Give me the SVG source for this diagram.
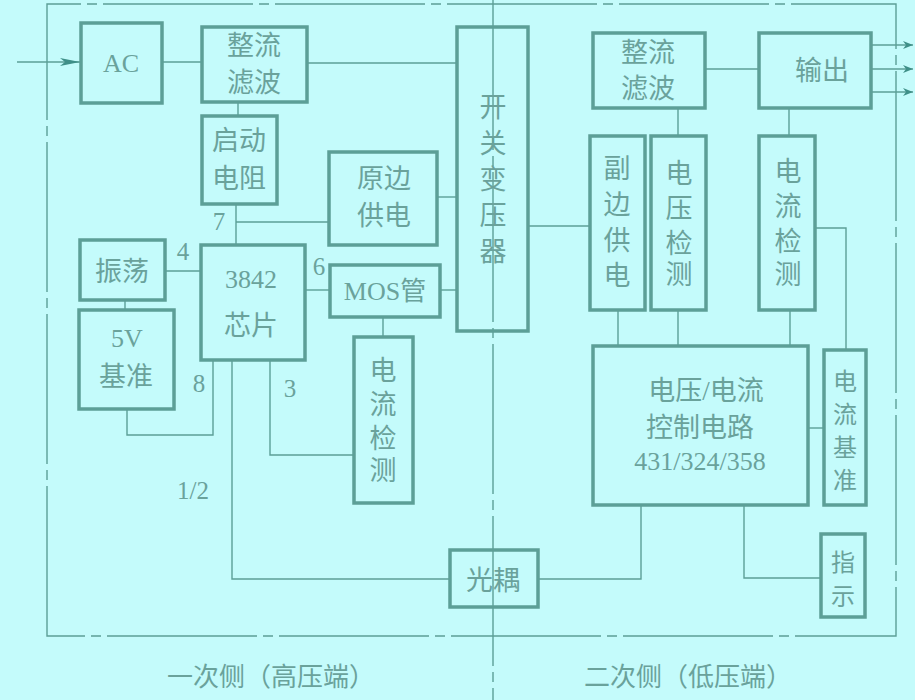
<svg xmlns="http://www.w3.org/2000/svg" width="915" height="700" viewBox="0 0 915 700">
<defs>
<style>
.box{fill:none;stroke:#5c9f97;stroke-width:3.5}
.ln{fill:none;stroke:#5c9f97;stroke-width:1.4}
.frame{fill:none;stroke:#5c9f97;stroke-width:1.4;stroke-dasharray:150 6 10 6}
.t{font-family:"Liberation Serif","Noto Sans CJK SC",serif;font-size:27px;fill:#6aa29b;text-anchor:middle}
.s{font-family:"Liberation Serif","Noto Sans CJK SC",serif;font-size:24px;fill:#6aa29b;text-anchor:middle}
.n{font-family:"Liberation Serif","Noto Sans CJK SC",serif;font-size:25px;fill:#6aa29b;text-anchor:middle}
.lb{font-family:"Liberation Serif","Noto Sans CJK SC",serif;font-size:26px;fill:#6aa29b;text-anchor:middle}
</style>
<marker id="arr" viewBox="0 0 20 10" refX="20" refY="5" markerWidth="20" markerHeight="10" markerUnits="userSpaceOnUse" orient="auto">
<path d="M0,1 L20,5 L0,9 L5,5 Z" fill="#3f8f88"/>
</marker>
<marker id="arr2" viewBox="0 0 10 8" refX="10" refY="4" markerWidth="10" markerHeight="8" markerUnits="userSpaceOnUse" orient="auto">
<path d="M0,0 L10,4 L0,8 L3,4 Z" fill="#3f8f88"/>
</marker>
</defs>
<rect x="0" y="0" width="915" height="700" fill="#c4fbfb"/>

<g id="frame">
<path class="frame" d="M47,636 L47,4 L896,4 L896,636 Z"/>
<line class="frame" x1="493" y1="0" x2="493" y2="700"/>
</g>

<g id="connectors">
<line class="ln" x1="17" y1="62" x2="80" y2="62" marker-end="url(#arr)"/>
<line class="ln" x1="162" y1="62" x2="202" y2="62"/>
<line class="ln" x1="307" y1="63" x2="457" y2="63"/>
<line class="ln" x1="238" y1="102" x2="238" y2="116"/>
<line class="ln" x1="236" y1="204" x2="236" y2="245"/>
<line class="ln" x1="236" y1="222" x2="329" y2="222"/>
<line class="ln" x1="437" y1="197" x2="457" y2="197"/>
<line class="ln" x1="125" y1="300" x2="125" y2="310"/>
<line class="ln" x1="165" y1="271" x2="201" y2="271"/>
<line class="ln" x1="305" y1="290" x2="330" y2="290"/>
<line class="ln" x1="440" y1="290" x2="457" y2="290"/>
<line class="ln" x1="383" y1="317" x2="383" y2="337"/>
<polyline class="ln" points="213,360 213,435 127,435 127,409"/>
<polyline class="ln" points="270,360 270,455 354,455"/>
<polyline class="ln" points="232,360 232,579 450,579"/>
<polyline class="ln" points="538,579 641,579 641,505"/>
<polyline class="ln" points="744,505 744,578 821,578"/>
<line class="ln" x1="528" y1="226" x2="590" y2="226"/>
<line class="ln" x1="705" y1="69" x2="759" y2="69"/>
<line class="ln" x1="678" y1="108" x2="678" y2="136"/>
<line class="ln" x1="789" y1="108" x2="789" y2="136"/>
<line class="ln" x1="871" y1="45" x2="913" y2="45" marker-end="url(#arr2)"/>
<line class="ln" x1="871" y1="69" x2="913" y2="69" marker-end="url(#arr2)"/>
<line class="ln" x1="871" y1="92" x2="913" y2="92" marker-end="url(#arr2)"/>
<line class="ln" x1="618" y1="310" x2="618" y2="346"/>
<line class="ln" x1="678" y1="310" x2="678" y2="346"/>
<line class="ln" x1="790" y1="310" x2="790" y2="346"/>
<polyline class="ln" points="815,228 846,228 846,350"/>
<line class="ln" x1="808" y1="428" x2="824" y2="428"/>
</g>

<g id="ac"><rect class="box" x="81" y="23" width="81" height="80"/><text class="lb" x="121" y="72">AC</text></g>
<g id="rect1"><rect class="box" x="202" y="27" width="105" height="75"/><text class="t" x="254" y="55">整流</text><text class="t" x="254" y="92">滤波</text></g>
<g id="startres"><rect class="box" x="202" y="116" width="75" height="88"/><text class="t" x="239" y="150">启动</text><text class="t" x="239" y="188">电阻</text></g>
<g id="primsup"><rect class="box" x="329" y="152" width="108" height="93"/><text class="t" x="384" y="188">原边</text><text class="t" x="384" y="225">供电</text></g>
<g id="xfmr"><rect class="box" x="457" y="27" width="71" height="304"/>
<text class="t" x="493" y="117">开</text><text class="t" x="493" y="153">关</text><text class="t" x="493" y="189">变</text><text class="t" x="493" y="225">压</text><text class="t" x="493" y="261">器</text></g>
<g id="rect2"><rect class="box" x="593" y="33" width="112" height="75"/><text class="t" x="648" y="62">整流</text><text class="t" x="648" y="98">滤波</text></g>
<g id="output"><rect class="box" x="759" y="33" width="112" height="75"/><text class="t" x="822" y="80">输出</text></g>
<g id="secsup"><rect class="box" x="590" y="136" width="55" height="174"/>
<text class="t" x="617" y="178">副</text><text class="t" x="617" y="214">边</text><text class="t" x="617" y="250">供</text><text class="t" x="617" y="285">电</text></g>
<g id="vdet"><rect class="box" x="651" y="136" width="55" height="174"/>
<text class="t" x="679" y="183">电</text><text class="t" x="679" y="218">压</text><text class="t" x="679" y="253">检</text><text class="t" x="679" y="284">测</text></g>
<g id="idet2"><rect class="box" x="759" y="136" width="56" height="174"/>
<text class="t" x="788" y="181">电</text><text class="t" x="788" y="216">流</text><text class="t" x="788" y="251">检</text><text class="t" x="788" y="284">测</text></g>
<g id="osc"><rect class="box" x="80" y="240" width="85" height="60"/><text class="t" x="122" y="281">振荡</text></g>
<g id="ref5v"><rect class="box" x="79" y="310" width="95" height="99"/><text class="lb" x="127" y="347">5V</text><text class="t" x="126" y="386">基准</text></g>
<g id="chip"><rect class="box" x="201" y="245" width="104" height="115"/><text class="lb" x="251" y="288">3842</text><text class="t" x="251" y="335">芯片</text></g>
<g id="mos"><rect class="box" x="330" y="265" width="110" height="52"/><text class="lb" x="385" y="300">MOS管</text></g>
<g id="idet1"><rect class="box" x="354" y="337" width="59" height="166"/>
<text class="t" x="383" y="380">电</text><text class="t" x="383" y="414">流</text><text class="t" x="383" y="448">检</text><text class="t" x="383" y="480">测</text></g>
<g id="ctrl"><rect class="box" x="593" y="346" width="215" height="159"/>
<text class="t" x="706" y="400">电压/电流</text><text class="t" x="700" y="437">控制电路</text><text class="lb" x="700" y="470">431/324/358</text></g>
<g id="iref"><rect class="box" x="824" y="350" width="42" height="155"/>
<text class="s" x="845" y="390">电</text><text class="s" x="845" y="423">流</text><text class="s" x="845" y="456">基</text><text class="s" x="845" y="489">准</text></g>
<g id="ind"><rect class="box" x="821" y="534" width="44" height="83"/><text class="s" x="843" y="571">指</text><text class="s" x="843" y="605">示</text></g>
<g id="opto"><rect class="box" x="450" y="550" width="88" height="57"/><text class="t" x="493" y="590">光耦</text></g>

<g id="pins">
<text class="n" x="219" y="230">7</text>
<text class="n" x="183" y="260">4</text>
<text class="n" x="319" y="275">6</text>
<text class="n" x="199" y="392">8</text>
<text class="n" x="290" y="397">3</text>
<text class="n" x="193" y="499">1/2</text>
</g>
<g id="labels">
<text class="lb" x="271" y="686">一次侧（高压端）</text>
<text class="lb" x="688" y="686">二次侧（低压端）</text>
</g>
</svg>
